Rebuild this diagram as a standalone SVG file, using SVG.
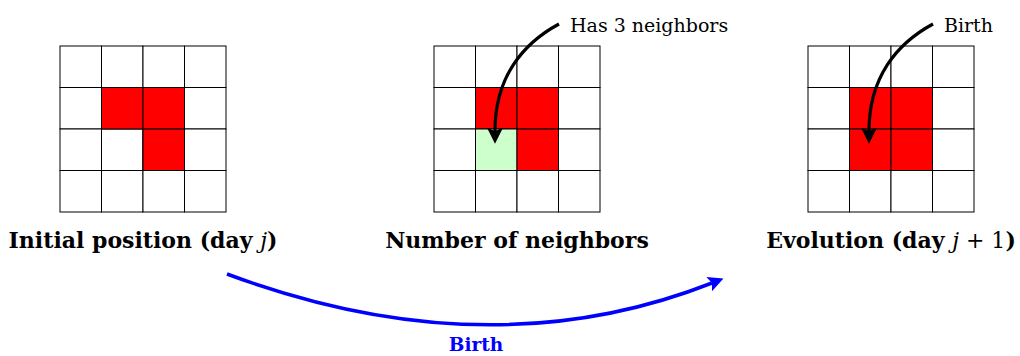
<svg xmlns="http://www.w3.org/2000/svg" width="1020" height="356" viewBox="0 0 1020 356">
<defs>
<style>
.cell{fill:#fff;stroke:#000;stroke-width:1}
.red{fill:#ff0000;stroke:#000;stroke-width:1}
.grn{fill:#ccffcc;stroke:#000;stroke-width:1}
.lbl{font-family:"DejaVu Serif",serif;font-size:19px;fill:#000}
.cap{font-family:"DejaVu Serif",serif;font-size:22px;font-weight:bold;fill:#000;text-anchor:middle}
.blk{fill:none;stroke:#000;stroke-width:3.2}
.blu{fill:none;stroke:#0000ff;stroke-width:3.5}
</style>
<marker id="ah" viewBox="0 0 10 10" refX="2" refY="5" markerWidth="5.5" markerHeight="5" orient="auto" markerUnits="strokeWidth">
<path d="M0,0 L10,5 L0,10 L2,5 Z" fill="#000"/>
</marker>
<marker id="ab" viewBox="0 0 10 10" refX="2" refY="5" markerWidth="5" markerHeight="4.4" orient="auto" markerUnits="strokeWidth">
<path d="M0,0 L10,5 L0,10 L2,5 Z" fill="#0000ff"/>
</marker>
<g id="grid">
<rect class="cell" x="0" y="0" width="41.5" height="41.5"/>
<rect class="cell" x="41.5" y="0" width="41.5" height="41.5"/>
<rect class="cell" x="83" y="0" width="41.5" height="41.5"/>
<rect class="cell" x="124.5" y="0" width="41.5" height="41.5"/>
<rect class="cell" x="0" y="41.5" width="41.5" height="41.5"/>
<rect class="cell" x="41.5" y="41.5" width="41.5" height="41.5"/>
<rect class="cell" x="83" y="41.5" width="41.5" height="41.5"/>
<rect class="cell" x="124.5" y="41.5" width="41.5" height="41.5"/>
<rect class="cell" x="0" y="83" width="41.5" height="41.5"/>
<rect class="cell" x="41.5" y="83" width="41.5" height="41.5"/>
<rect class="cell" x="83" y="83" width="41.5" height="41.5"/>
<rect class="cell" x="124.5" y="83" width="41.5" height="41.5"/>
<rect class="cell" x="0" y="124.5" width="41.5" height="41.5"/>
<rect class="cell" x="41.5" y="124.5" width="41.5" height="41.5"/>
<rect class="cell" x="83" y="124.5" width="41.5" height="41.5"/>
<rect class="cell" x="124.5" y="124.5" width="41.5" height="41.5"/>
</g>
</defs>
<rect width="1020" height="356" fill="#fff"/>

<g id="initial">
<use href="#grid" x="60" y="46"/>
<rect class="red" x="101.5" y="87.5" width="41.5" height="41.5"/>
<rect class="red" x="143" y="87.5" width="41.5" height="41.5"/>
<rect class="red" x="143" y="129" width="41.5" height="41.5"/>
<text class="cap" x="143" y="248">Initial position (day <tspan font-style="italic" font-weight="normal">j</tspan>)</text>
</g>

<g id="neighbors">
<use href="#grid" x="434" y="46"/>
<rect class="red" x="475.5" y="87.5" width="41.5" height="41.5"/>
<rect class="red" x="517" y="87.5" width="41.5" height="41.5"/>
<rect class="grn" x="475.5" y="129" width="41.5" height="41.5"/>
<rect class="red" x="517" y="129" width="41.5" height="41.5"/>
<text class="cap" x="517" y="248">Number of neighbors</text>
<text class="lbl" x="570" y="31.5">Has 3 neighbors</text>
</g>

<g id="evolution">
<use href="#grid" x="808" y="46"/>
<rect class="red" x="849.5" y="87.5" width="41.5" height="41.5"/>
<rect class="red" x="891" y="87.5" width="41.5" height="41.5"/>
<rect class="red" x="849.5" y="129" width="41.5" height="41.5"/>
<rect class="red" x="891" y="129" width="41.5" height="41.5"/>
<text class="cap" x="891" y="248">Evolution (day <tspan font-style="italic" font-weight="normal">j</tspan><tspan font-weight="normal"> + 1</tspan>)</text>
<text class="lbl" x="944" y="31.5">Birth</text>
</g>

<g id="connectors">
<path class="blk" d="M559,24 C522,44 495,78 495,131" marker-end="url(#ah)"/>
<path class="blk" d="M933,24 C896,44 869,78 869,131" marker-end="url(#ah)"/>
<path class="blu" d="M227,274 Q488,371 712,283" marker-end="url(#ab)"/>
<text x="476" y="351" font-family="DejaVu Serif, serif" font-size="18.5" font-weight="bold" fill="#0000ff" text-anchor="middle">Birth</text>
</g>
</svg>
